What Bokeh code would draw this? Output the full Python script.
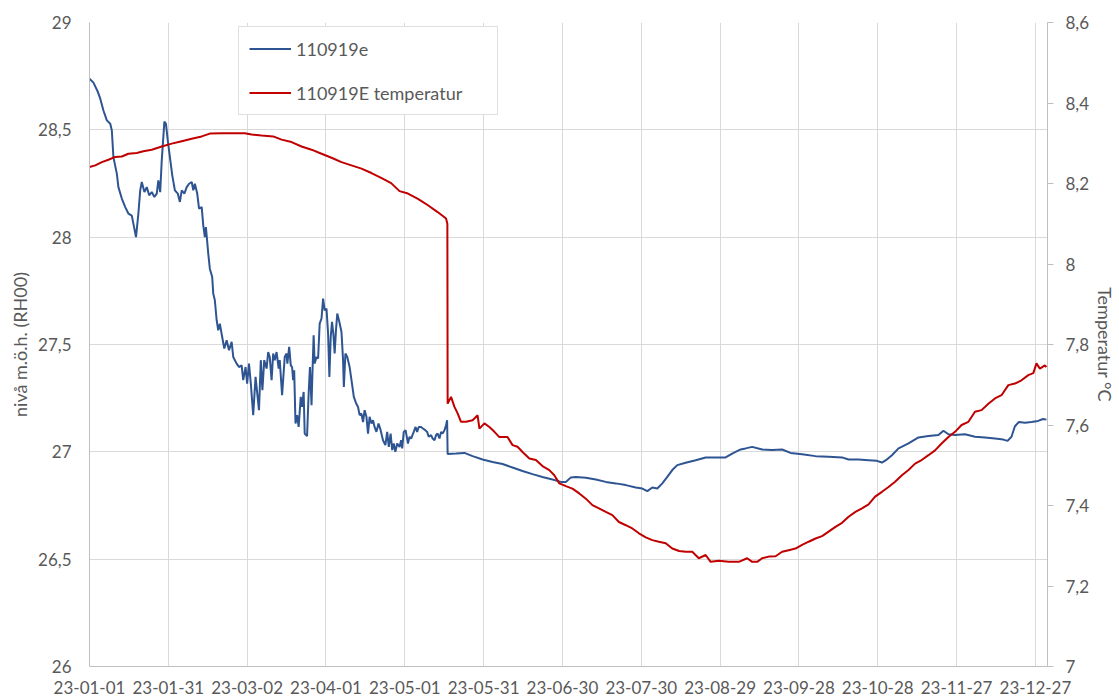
from datetime import datetime, timedelta
from bokeh.plotting import figure
from bokeh.models import (Range1d, LinearAxis, FixedTicker, DatetimeTickFormatter,
                          Legend, LegendItem, ColumnDataSource)
from bokeh.embed import file_html
from bokeh.resources import INLINE

# ---------------- data ----------------
# day offsets from 2023-01-01 and groundwater level (m.ö.h., RH00)
lvl_day = [0, 1.5, 3.2, 4.1, 5.3, 6.6, 7.9, 8.5, 9.1, 10.4, 11.0, 12.3, 13.6, 14.8, 16.1, 16.7, 17.7,
           18.6, 19.3, 19.9, 20.9, 21.8, 22.7, 23.7, 24.7, 25.6, 26.2, 26.9, 27.5, 28.5, 29.1, 29.8,
           30.6, 31.5, 32.5, 33.6, 34.4, 35.1, 36.1, 37.0, 37.9, 38.9, 39.5, 40.1, 41.0, 41.7, 42.7,
           43.3, 43.9, 44.3, 45.2, 45.8, 46.7, 47.1, 47.7, 48.4, 49.0, 49.6, 50.5, 51.3, 52.2, 53.1,
           54.1, 54.7, 56.0, 56.9, 57.9, 58.5, 59.4, 60.0, 60.7, 61.4, 62.3, 63.2, 64.5, 65.2, 65.8,
           66.5, 67.4, 68.0, 68.6, 69.3, 69.9, 70.5, 71.2, 72.0, 72.4, 73.3, 74.3, 75.0, 75.3, 76.0,
           76.6, 77.1, 77.5, 77.9, 78.4, 79.0, 79.6, 80.4, 80.9, 81.5, 81.9, 82.8, 83.4, 83.9, 84.5,
           84.8, 85.3, 85.7, 86.4, 87.0, 87.6, 88.3, 88.9, 89.5, 90.2, 90.8, 91.3, 91.8, 92.3, 92.8,
           93.3, 93.8, 94.3, 95.1, 95.9, 96.5, 96.8, 97.4, 98.1, 99.0, 99.9, 100.6, 101.5, 102.2,
           102.8, 103.5, 104.1, 104.7, 105.4, 106.0, 106.6, 107.3, 107.9, 108.5, 109.2, 110.0, 110.8,
           111.7, 112.6, 113.3, 113.9, 114.6, 115.2, 115.8, 116.4, 117.1, 118.0, 118.6, 119.0, 119.6,
           120.3, 121.2, 121.8, 122.4, 123.4, 124.1, 124.7, 125.3, 126.2, 126.9, 127.8, 128.5, 129.1,
           130.0, 130.6, 131.3, 131.9, 132.5, 133.2, 133.8, 134.4, 135.1, 135.7, 136.1, 136.3, 139.5,
           142.7, 145.8, 149.6, 153.4, 157.2, 161.0, 164.8, 168.6, 172.4, 176.2, 179.4, 181.3, 183.2,
           185.1, 188.9, 192.7, 196.5, 200.3, 204.1, 207.9, 210.4, 212.3, 214.2, 216.1, 218.0, 219.9,
           221.8, 223.7, 226.9, 230.7, 234.5, 238.3, 242.1, 244.6, 247.8, 249.7, 252.2, 256.0, 259.8,
           263.6, 266.8, 271.2, 276.3, 281.3, 286.4, 288.9, 292.7, 296.5, 299.7, 301.6, 303.1, 305.4,
           307.9, 311.7, 315.5, 319.3, 323.1, 325.0, 326.9, 329.4, 333.2, 337.0, 340.8, 344.6, 347.8,
           349.4, 350.9, 352.2, 353.7, 356.0, 358.5, 361.0, 362.9, 364.2]
lvl_val = [28.738, 28.72, 28.676, 28.645, 28.59, 28.544, 28.528, 28.497, 28.373, 28.296, 28.233, 28.18,
           28.14, 28.11, 28.10, 28.063, 28.0, 28.11, 28.218, 28.257, 28.21, 28.233, 28.195, 28.21,
           28.187, 28.203, 28.265, 28.21, 28.358, 28.539, 28.528, 28.45, 28.373, 28.288, 28.218,
           28.203, 28.164, 28.218, 28.203, 28.233, 28.249, 28.257, 28.218, 28.249, 28.203, 28.133,
           28.14, 28.055, 28.0, 28.047, 27.923, 27.853, 27.814, 27.737, 27.706, 27.613, 27.566,
           27.597, 27.535, 27.481, 27.52, 27.473, 27.512, 27.442, 27.411, 27.395, 27.403, 27.334,
           27.395, 27.318, 27.411, 27.318, 27.171, 27.349, 27.194, 27.427, 27.287, 27.427, 27.388,
           27.465, 27.442, 27.334, 27.458, 27.427, 27.465, 27.388, 27.427, 27.264, 27.442, 27.458,
           27.411, 27.489, 27.403, 27.395, 27.334, 27.380, 27.132, 27.171, 27.116, 27.256, 27.209,
           27.279, 27.085, 27.073, 27.272, 27.395, 27.217, 27.349, 27.543, 27.411, 27.442, 27.435,
           27.597, 27.621, 27.714, 27.659, 27.667, 27.551, 27.349, 27.535, 27.605, 27.551, 27.458,
           27.566, 27.644, 27.605, 27.558, 27.427, 27.302, 27.458, 27.442, 27.395, 27.318, 27.256,
           27.225, 27.209, 27.171, 27.178, 27.139, 27.194, 27.163, 27.085, 27.163, 27.132, 27.147,
           27.116, 27.093, 27.132, 27.101, 27.054, 27.031, 27.093, 27.023, 27.085, 27.008, 27.039,
           27.0, 27.039, 27.023, 27.054, 27.016, 27.093, 27.101, 27.039, 27.070, 27.062, 27.093,
           27.116, 27.093, 27.116, 27.116, 27.109, 27.101, 27.093, 27.070, 27.078, 27.062, 27.054,
           27.078, 27.085, 27.062, 27.093, 27.085, 27.101, 27.124, 27.147, 26.99, 26.992, 26.995,
           26.98, 26.964, 26.953, 26.943, 26.927, 26.911, 26.896, 26.883, 26.871, 26.860, 26.860,
           26.881, 26.883, 26.879, 26.871, 26.860, 26.853, 26.845, 26.834, 26.829, 26.817, 26.834,
           26.829, 26.853, 26.883, 26.915, 26.938, 26.949, 26.961, 26.974, 26.974, 26.974, 26.992,
           27.011, 27.016, 27.023, 27.011, 27.008, 27.011, 26.995, 26.989, 26.980, 26.977, 26.974,
           26.964, 26.964, 26.961, 26.958, 26.950, 26.961, 26.984, 27.016, 27.039, 27.067, 27.074,
           27.078, 27.098, 27.082, 27.078, 27.082, 27.070, 27.067, 27.062, 27.057, 27.051, 27.070,
           27.119, 27.139, 27.135, 27.139, 27.144, 27.153, 27.150]

# day offsets from 2023-01-01 and temperature (°C)
tmp_day = [0, 2.2, 4.7, 7.2, 9.8, 12.3, 14.8, 18.0, 20.5, 23.7, 27.5, 31.3, 35.1, 38.9, 42.7, 45.8,
           50.3, 55.3, 59.1, 61.7, 65.5, 69.9, 73.1, 76.9, 80.7, 84.5, 88.3, 92.1, 95.9, 99.7, 103.5,
           107.3, 111.0, 114.8, 118.0, 121.2, 125.0, 128.8, 132.5, 135.7, 136.2, 136.3, 137.6, 138.9,
           140.1, 141.4, 143.3, 145.8, 147.7, 148.4, 150.3, 152.2, 154.1, 156.0, 159.1, 161.0, 162.9,
           164.8, 167.4, 169.9, 172.4, 175.0, 176.9, 178.8, 181.3, 183.8, 186.4, 188.9, 191.4, 193.9,
           196.5, 199.0, 201.5, 204.1, 206.6, 209.1, 211.7, 214.2, 216.7, 219.3, 221.8, 224.4, 226.9,
           229.4, 231.9, 234.5, 236.4, 239.5, 243.3, 247.1, 250.3, 252.2, 254.1, 256.0, 258.5, 261.1,
           263.6, 266.1, 268.7, 271.2, 273.7, 276.3, 278.8, 281.3, 283.9, 286.4, 288.9, 291.5, 294.0,
           296.5, 299.0, 301.6, 304.1, 306.6, 309.2, 311.7, 314.2, 316.7, 319.3, 321.8, 324.3, 326.9,
           329.4, 331.9, 334.5, 337.0, 339.5, 342.1, 344.6, 347.1, 349.7, 352.2, 354.7, 357.3, 359.2,
           360.4, 361.7, 363.6, 364.2]
tmp_val = [8.241, 8.245, 8.253, 8.259, 8.266, 8.267, 8.274, 8.276, 8.280, 8.284, 8.292, 8.299, 8.305,
           8.311, 8.317, 8.324, 8.325, 8.325, 8.325, 8.322, 8.319, 8.317, 8.309, 8.303, 8.292, 8.284,
           8.274, 8.264, 8.253, 8.245, 8.237, 8.226, 8.214, 8.201, 8.181, 8.175, 8.162, 8.146, 8.129,
           8.113, 8.100, 7.653, 7.670, 7.645, 7.629, 7.608, 7.608, 7.612, 7.624, 7.591, 7.604, 7.595,
           7.583, 7.570, 7.570, 7.550, 7.546, 7.533, 7.517, 7.513, 7.498, 7.488, 7.475, 7.455, 7.448,
           7.442, 7.430, 7.417, 7.401, 7.393, 7.384, 7.376, 7.359, 7.351, 7.343, 7.331, 7.321, 7.314,
           7.310, 7.306, 7.293, 7.287, 7.285, 7.285, 7.269, 7.277, 7.260, 7.263, 7.260, 7.260, 7.269,
           7.260, 7.260, 7.269, 7.273, 7.274, 7.285, 7.289, 7.293, 7.302, 7.310, 7.318, 7.324, 7.335,
           7.347, 7.357, 7.372, 7.384, 7.393, 7.403, 7.422, 7.434, 7.446, 7.459, 7.475, 7.488, 7.504,
           7.513, 7.525, 7.537, 7.554, 7.570, 7.583, 7.600, 7.608, 7.633, 7.637, 7.653, 7.666, 7.674,
           7.699, 7.703, 7.711, 7.724, 7.729, 7.753, 7.740, 7.748, 7.744]

x_tick_labels = ["23-01-01", "23-01-31", "23-03-02", "23-04-01", "23-05-01", "23-05-31", "23-06-30",
                 "23-07-30", "23-08-29", "23-09-28", "23-10-28", "23-11-27", "23-12-27"]
lvl_ticks = [26, 26.5, 27, 27.5, 28, 28.5, 29]
lvl_tick_labels = ["26", "26,5", "27", "27,5", "28", "28,5", "29"]
tmp_ticks = [7, 7.2, 7.4, 7.6, 7.8, 8, 8.2, 8.4, 8.6]
tmp_tick_labels = ["7", "7,2", "7,4", "7,6", "7,8", "8", "8,2", "8,4", "8,6"]

series_names = ["110919e", "110919E temperatur"]
y_title_left = "nivå m.ö.h. (RH00)"
y_title_right = "Temperatur °C"

# ---------------- figure ----------------
base = datetime(2023, 1, 1)
lvl_src = ColumnDataSource(dict(x=[base + timedelta(days=d) for d in lvl_day], y=lvl_val))
tmp_src = ColumnDataSource(dict(x=[base + timedelta(days=d) for d in tmp_day], y=tmp_val))

FONT = "Lato"
TXT = "#595959"

p = figure(width=1119, height=700, x_axis_type="datetime", output_backend="svg",
           toolbar_location=None,
           x_range=Range1d(base, base + timedelta(days=364.6)),
           y_range=Range1d(26, 29),
           min_border_left=89, min_border_right=70, min_border_top=22, min_border_bottom=34)
p.extra_y_ranges = {"temp": Range1d(7, 8.6)}
p.outline_line_color = None
p.background_fill_color = "white"
p.border_fill_color = "white"

x_ticks = [datetime.strptime("20" + s, "%Y-%m-%d").timestamp() * 1000 for s in x_tick_labels]
fmt = "%y-%m-%d"
p.xaxis.ticker = FixedTicker(ticks=x_ticks)
p.xaxis.formatter = DatetimeTickFormatter(milliseconds=fmt, seconds=fmt, minsec=fmt, minutes=fmt,
                                          hourmin=fmt, hours=fmt, days=fmt, months=fmt, years=fmt)
p.xaxis.major_label_overrides = {t: s for t, s in zip(x_ticks, x_tick_labels)}

p.yaxis.ticker = FixedTicker(ticks=lvl_ticks)
p.yaxis.major_label_overrides = {t: s for t, s in zip(lvl_ticks, lvl_tick_labels)}
p.yaxis.axis_label = y_title_left

raxis = LinearAxis(y_range_name="temp", ticker=FixedTicker(ticks=tmp_ticks),
                   axis_label=y_title_right)
raxis.major_label_overrides = {t: s for t, s in zip(tmp_ticks, tmp_tick_labels)}
p.add_layout(raxis, "right")

for ax in [p.xaxis[0], p.yaxis[0], raxis]:
    ax.axis_line_color = "#bfbfbf"
    ax.axis_line_width = 1
    ax.major_tick_line_color = "#bfbfbf"
    ax.major_tick_in = 0
    ax.major_tick_out = 0
    ax.minor_tick_line_color = None
    ax.major_label_text_font = FONT
    ax.major_label_text_font_size = "17px"
    ax.major_label_text_color = TXT
    ax.axis_label_text_font = FONT
    ax.axis_label_text_font_size = "18px"
    ax.axis_label_text_color = TXT
    ax.axis_label_text_font_style = "normal"

raxis.major_tick_out = 6
p.xaxis.major_label_standoff = 14
p.yaxis.major_label_standoff = 18
raxis.major_label_standoff = 12
p.yaxis.axis_label_standoff = 4
raxis.axis_label_standoff = 2

p.xgrid.grid_line_color = "#d9d9d9"
p.ygrid.grid_line_color = "#d9d9d9"

r_lvl = p.line("x", "y", source=lvl_src, line_color="#2e5592", line_width=2)
r_tmp = p.line("x", "y", source=tmp_src, line_color="#c00000", line_width=2, y_range_name="temp")

legend = Legend(items=[LegendItem(label=series_names[0], renderers=[r_lvl]),
                       LegendItem(label=series_names[1], renderers=[r_tmp])],
                location=(149, 551), padding=10, spacing=21, margin=0,
                glyph_width=42, glyph_height=23, label_height=23, label_width=191,
                label_standoff=5, label_text_font=FONT, label_text_font_size="18px",
                label_text_color=TXT, border_line_color="#bfbfbf", border_line_width=1,
                background_fill_color="white", background_fill_alpha=1.0)
p.add_layout(legend, "center")

open("out.html", "w").write(file_html(p, INLINE))
